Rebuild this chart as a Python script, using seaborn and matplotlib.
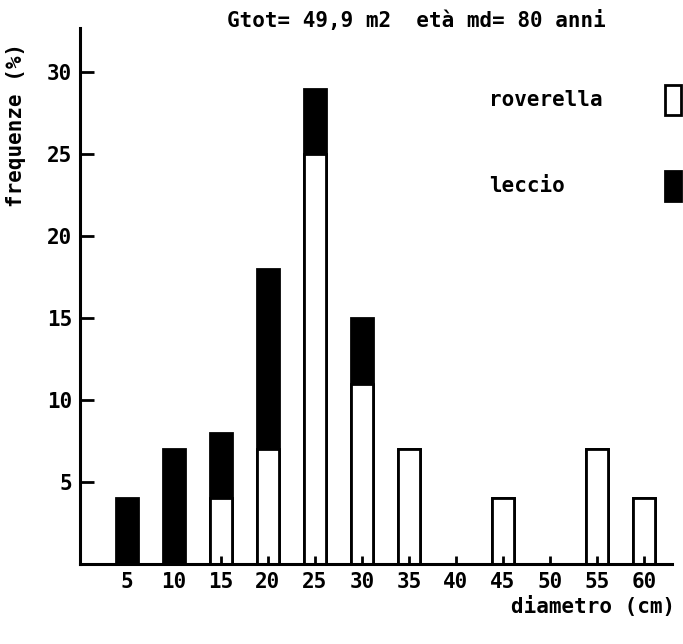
import matplotlib
matplotlib.use("Agg")
import matplotlib.pyplot as plt
import seaborn as sns
from matplotlib.patches import Rectangle

# ---- data ----
diametri = [5, 10, 15, 20, 25, 30, 35, 40, 45, 50, 55, 60]
roverella = [0, 0, 4, 7, 25, 11, 7, 0, 4, 0, 7, 4]
leccio = [4, 7, 4, 11, 4, 4, 0, 0, 0, 0, 0, 0]
yticks = [5, 10, 15, 20, 25, 30]
titolo = "Gtot= 49,9 m2  età md= 80 anni"
etichetta_x = "diametro (cm)"
etichetta_y = "frequenze (%)"
serie = ["roverella", "leccio"]
colori_serie = ["white", "black"]

totali = [r + l for r, l in zip(roverella, leccio)]

sns.set_theme(style="white")
plt.rcParams["font.family"] = ["DejaVu Sans Mono", "DejaVu Sans"]
plt.rcParams["font.weight"] = "bold"
plt.rcParams["text.color"] = "black"

FS = 15
W, H = 683, 644

fig = plt.figure(figsize=(6.83, 6.44), dpi=100)
ax = fig.add_axes([80 / W, 80 / H, (672 - 80) / W, (564 - 28) / H])

lw = 2.0
sns.barplot(x=diametri, y=totali, native_scale=True, color="black",
            saturation=1, width=0.48, edgecolor="black", linewidth=lw,
            errorbar=None, ax=ax)
sns.barplot(x=diametri, y=roverella, native_scale=True, color="white",
            saturation=1, width=0.48, edgecolor="black", linewidth=lw,
            errorbar=None, ax=ax)

ax.set_xlim(0, 63)
ax.set_ylim(0, 32.7)
ax.set_xticks(diametri)
ax.set_xticklabels([str(d) for d in diametri])
ax.set_yticks(yticks)
ax.set_yticklabels([str(v) for v in yticks])
ax.set_xlabel("")
ax.set_ylabel("")
ax.set_axisbelow(False)

for s in ["top", "right"]:
    ax.spines[s].set_visible(False)
for s in ["left", "bottom"]:
    ax.spines[s].set_color("black")
    ax.spines[s].set_linewidth(2.2)

ax.tick_params(axis="both", direction="in", width=2.0, colors="black",
               labelsize=FS, bottom=True, left=True)
ax.tick_params(axis="x", length=6, pad=5.5)
ax.tick_params(axis="y", length=10, pad=5.5)
for lab in ax.get_xticklabels() + ax.get_yticklabels():
    lab.set_fontweight("bold")

fig.text(416 / W, 1 - 20 / H, titolo, ha="center", va="center",
         fontsize=FS, fontweight="bold", color="black")
fig.text(675 / W, 1 - 606 / H, etichetta_x, ha="right", va="center",
         fontsize=FS, fontweight="bold", color="black")
fig.text(16 / W, 1 - 125 / H, etichetta_y, ha="center", va="center",
         rotation=90, fontsize=FS, fontweight="bold", color="black")

# legend: label on the left, box on the right
legend_rows_y = [100, 186]
for nome, colore, yc in zip(serie, colori_serie, legend_rows_y):
    fig.text(489 / W, 1 - yc / H, nome, ha="left", va="center",
             fontsize=FS, fontweight="bold", color="black")
    fig.patches.append(Rectangle((665 / W, 1 - (yc + 15) / H), 16 / W, 30 / H,
                                 transform=fig.transFigure, facecolor=colore,
                                 edgecolor="black", linewidth=lw))

fig.savefig("out.png", dpi=100)
